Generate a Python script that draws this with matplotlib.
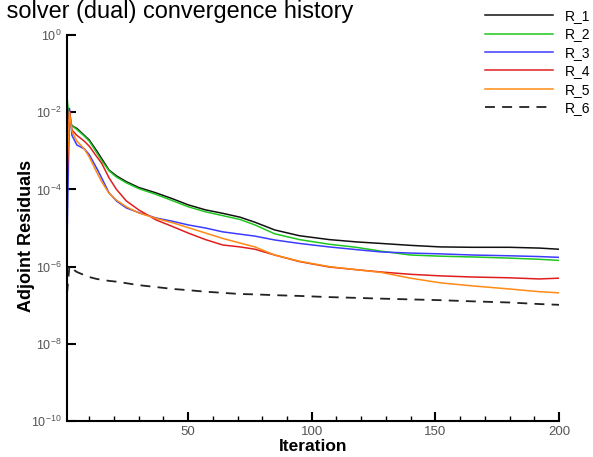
"""Adjoint solver residual history plot."""
import matplotlib
matplotlib.use("Agg")
import matplotlib.pyplot as plt
import numpy as np

plt.rcParams.update(
    {
        "font.family": ["Liberation Sans", "DejaVu Sans"],
        "mathtext.fontset": "custom",
        "mathtext.rm": "Liberation Sans",
        "mathtext.it": "Liberation Sans",
        "axes.linewidth": 1.5,
    }
)

ITER = [1, 2, 3, 5, 8, 10, 13, 15, 18, 21, 25, 30, 37, 44, 50, 57, 64, 71, 77,
        85, 95, 107, 118, 128, 140, 152, 165, 180, 192, 200]

# log10 of the residuals per equation
R1_LOG = [-1.9, -2.2, -2.35, -2.42, -2.6, -2.72, -3.0, -3.2, -3.5, -3.65, -3.8, -3.95,
          -4.09, -4.25, -4.4, -4.53, -4.62, -4.72, -4.85, -5.05, -5.2, -5.3, -5.36,
          -5.4, -5.45, -5.49, -5.5, -5.5, -5.52, -5.55]
R2_LOG = [-1.62, -2.2, -2.35, -2.45, -2.62, -2.75, -3.05, -3.25, -3.52, -3.68, -3.83,
          -3.98, -4.13, -4.3, -4.45, -4.58, -4.68, -4.78, -4.92, -5.15, -5.3, -5.42,
          -5.5, -5.6, -5.7, -5.73, -5.75, -5.78, -5.81, -5.84]
R3_LOG = [-5.4, -1.9, -2.6, -2.85, -2.95, -3.1, -3.45, -3.7, -4.09, -4.3, -4.48, -4.6,
          -4.74, -4.83, -4.92, -5.0, -5.1, -5.16, -5.21, -5.31, -5.4, -5.49, -5.56,
          -5.62, -5.65, -5.67, -5.7, -5.72, -5.74, -5.76]
R4_LOG = [-3.8, -1.95, -2.46, -2.6, -2.75, -2.88, -3.15, -3.32, -3.7, -4.0, -4.3, -4.53,
          -4.79, -4.97, -5.13, -5.3, -5.44, -5.49, -5.55, -5.7, -5.87, -6.01, -6.08,
          -6.14, -6.2, -6.24, -6.27, -6.29, -6.32, -6.3]
R5_LOG = [-3.5, -2.0, -2.5, -2.75, -2.95, -3.16, -3.55, -3.8, -4.1, -4.28, -4.45, -4.61,
          -4.75, -4.87, -4.99, -5.13, -5.27, -5.39, -5.49, -5.7, -5.86, -6.0, -6.08,
          -6.15, -6.3, -6.42, -6.5, -6.58, -6.65, -6.68]
R6_LOG = [-6.7, -5.98, -6.05, -6.14, -6.22, -6.27, -6.32, -6.34, -6.37, -6.39, -6.43,
          -6.48, -6.53, -6.58, -6.61, -6.65, -6.68, -6.71, -6.72, -6.74, -6.76, -6.79,
          -6.81, -6.83, -6.85, -6.87, -6.9, -6.93, -6.97, -6.99]

LABELS = ["R_1", "R_2", "R_3", "R_4", "R_5", "R_6"]
COLORS = ["#111111", "#1ec81e", "#3c3cff", "#e01e1e", "#ff8a14", "#222222"]
YTICKS = [1e0, 1e-2, 1e-4, 1e-6, 1e-8, 1e-10]
YTICKLABELS = ["$10^{0}$", "$10^{-2}$", "$10^{-4}$", "$10^{-6}$", "$10^{-8}$", "$10^{-10}$"]

W, H = 593, 457
fig = plt.figure(figsize=(W / 100, H / 100), dpi=100)
ax = fig.add_axes([67 / W, 1 - 421 / H, (559 - 67) / W, (421 - 35) / H])

series = [R1_LOG, R2_LOG, R3_LOG, R4_LOG, R5_LOG, R6_LOG]
handles = []
for i, (vals, lab, col) in enumerate(zip(series, LABELS, COLORS)):
    y = 10.0 ** np.array(vals)
    if i == 5:
        (ln,) = ax.plot(ITER, y, color=col, lw=1.3, dashes=(5.5, 4), label=lab)
    else:
        (ln,) = ax.plot(ITER, y, color=col, lw=1.1, label=lab)
    handles.append(ln)

ax.set_yscale("log")
ax.set_xlim(1, 200)
ax.set_ylim(1e-10, 1)
ax.set_yticks(YTICKS)
ax.set_yticklabels(YTICKLABELS)
ax.yaxis.set_minor_locator(matplotlib.ticker.NullLocator())
ax.set_xticks([50, 100, 150, 200])
ax.set_xticks(np.arange(10, 200, 10), minor=True)

for side in ("top", "right"):
    ax.spines[side].set_visible(False)
ax.tick_params(axis="both", which="major", direction="in", length=6.5, width=1.5,
               labelcolor="#555555", labelsize=9.5)
ax.tick_params(axis="y", labelsize=9, pad=4)
ax.tick_params(axis="x", which="minor", direction="in", length=3.5, width=1.0)

ax.set_xlabel("Iteration", fontsize=12.5, fontweight="bold", labelpad=1)
ax.set_ylabel("Adjoint Residuals", fontsize=13, fontweight="bold")
ax.yaxis.set_label_coords(-0.065, 0.479)

fig.text(353 / W, 1 - 18 / H, "Adjoint solver (dual) convergence history",
         ha="right", va="baseline", fontsize=16.9)

fig.legend(handles=handles, labels=LABELS, loc="upper left",
           bbox_to_anchor=(485 / W, 1 - 9 / H), frameon=False, fontsize=10,
           handlelength=4.9, handletextpad=0.85, labelspacing=0.32,
           borderpad=0, borderaxespad=0)

fig.savefig("out.png", dpi=100)
